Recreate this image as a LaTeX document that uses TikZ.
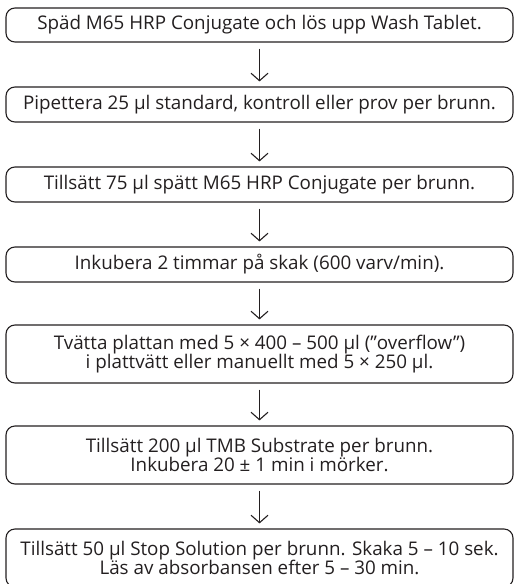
\documentclass[tikz,border=0pt]{standalone}
\usepackage{fontspec}
\setmainfont{Open Sans}
\usetikzlibrary{arrows.meta}
\definecolor{ink}{HTML}{231F20}
\tikzset{
  stepbox/.style={draw=ink, line width=1.1pt, rounded corners=9pt, minimum width=507pt, text=ink, font=\fontsize{18.8}{18.5}\selectfont, align=center, inner sep=0pt},
  flow/.style={draw=ink, line width=1.1pt, -{Straight Barb[length=7.5pt,width=17pt,line width=1.1pt]}, shorten <=6pt, shorten >=5pt}
}
\begin{document}
\begin{tikzpicture}[x=1pt,y=-1pt]
\useasboundingbox (0,0) rectangle (515,584);
\begin{scope}
\clip (0,0) rectangle (515,584);
\node[stepbox, minimum height=34pt] (b1) at (259.5,25) {Späd M65 HRP Conjugate och lös upp Wash Tablet.};
\node[stepbox, minimum height=35pt] (b2) at (259.5,104.5) {Pipettera 25 µl standard, kontroll eller prov per brunn.};
\node[stepbox, minimum height=35pt] (b3) at (259.5,184.5) {Tillsätt 75 µl spätt M65 HRP Conjugate per brunn.};
\node[stepbox, minimum height=35pt] (b4) at (259.5,264.5) {Inkubera 2 timmar på skak (600 varv/min).};
\node[stepbox, minimum height=58pt] (b5) at (259.5,354) {Tvätta plattan med 5 × 400 – 500 µl (”overflow”)\\ i plattvätt eller manuellt med 5 × 250 µl.};
\node[stepbox, minimum height=58pt] (b6) at (259.5,455) {Tillsätt 200 µl TMB Substrate per brunn.\\ Inkubera 20 ± 1 min i mörker.};
\node[stepbox, minimum height=58pt] (b7) at (259.5,558) {Tillsätt 50 µl Stop Solution per brunn. Skaka 5 – 10 sek.\\ Läs av absorbansen efter 5 – 30 min.};
\end{scope}
\draw[flow] (b1) -- (b2);
\draw[flow] (b2) -- (b3);
\draw[flow] (b3) -- (b4);
\draw[flow] (b4) -- (b5);
\draw[flow] (b5) -- (b6);
\draw[flow] (b6) -- (b7);
\end{tikzpicture}
\end{document}
